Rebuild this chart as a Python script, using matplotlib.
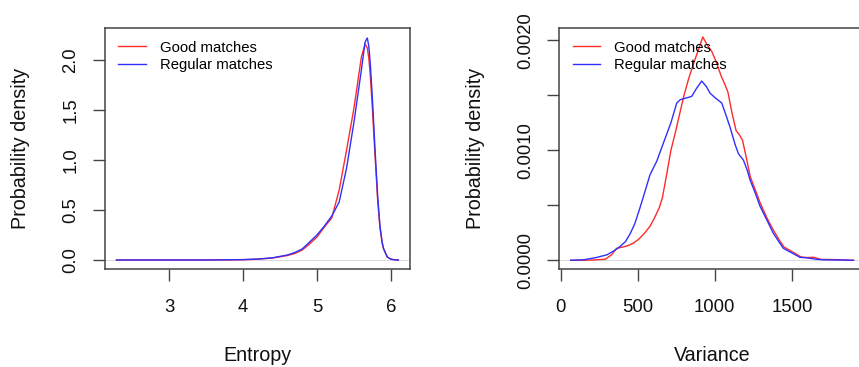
import matplotlib
matplotlib.use("Agg")
import matplotlib.pyplot as plt

plt.rcParams['font.family'] = ['Liberation Sans', 'DejaVu Sans']

# Entropy densities
ent_x = [2.29, 3.0, 3.5, 4.0, 4.2, 4.4, 4.6, 4.7, 4.8, 4.9, 5.0, 5.1, 5.2, 5.3,
         5.4, 5.5, 5.6, 5.65, 5.68, 5.7, 5.72, 5.75, 5.78, 5.8, 5.82, 5.85,
         5.88, 5.9, 5.95, 6.0, 6.05, 6.1]
ent_good = [0.0, 0.0, 0.0, 0.003, 0.008, 0.02, 0.045, 0.065, 0.10, 0.16, 0.23,
            0.33, 0.42, 0.70, 1.10, 1.52, 2.03, 2.16, 2.12, 2.02, 1.85, 1.50,
            1.10, 0.85, 0.60, 0.33, 0.17, 0.11, 0.03, 0.008, 0.002, 0.0]
ent_regular = [0.0, 0.0, 0.0, 0.004, 0.01, 0.022, 0.05, 0.075, 0.11, 0.18, 0.25,
               0.34, 0.44, 0.58, 0.92, 1.38, 1.90, 2.18, 2.22, 2.14, 1.97, 1.60,
               1.17, 0.90, 0.64, 0.35, 0.18, 0.115, 0.03, 0.008, 0.002, 0.0]

# Variance densities (units of 1e-4)
var_good_x = [65, 200, 290, 330, 363, 400, 430, 470, 505, 540, 580, 610, 640,
              660, 690, 715, 742, 770, 800, 830, 860, 895, 922, 950, 980, 1010,
              1040, 1065, 1085, 1110, 1138, 1160, 1180, 1205, 1230, 1260, 1295,
              1340, 1380, 1420, 1450, 1500, 1560, 1600, 1640, 1690, 1790, 1900]
var_good = [0.0, 0.02, 0.1, 0.5, 1.09, 1.2, 1.3, 1.55, 1.9, 2.4, 3.1, 3.9, 4.8,
            5.7, 8.0, 10.0, 11.5, 13.2, 15.0, 16.5, 17.8, 19.2, 20.3, 19.6,
            19.0, 18.0, 16.8, 16.0, 15.3, 13.5, 11.8, 11.4, 10.9, 9.3, 7.6,
            6.5, 5.2, 3.8, 2.75, 1.8, 1.2, 0.8, 0.3, 0.25, 0.28, 0.08, 0.06, 0.0]
var_reg_x = [65, 150, 230, 300, 350, 385, 420, 450, 480, 515, 550, 580, 623,
             678, 715, 753, 775, 800, 850, 880, 915, 945, 969, 1000, 1045, 1070,
             1099, 1130, 1153, 1186, 1210, 1229, 1260, 1294, 1340, 1380, 1420,
             1445, 1490, 1553, 1600, 1662, 1700, 1800, 1900]
var_regular = [0.0, 0.05, 0.25, 0.5, 0.9, 1.25, 1.7, 2.4, 3.3, 4.8, 6.4, 7.8,
               9.0, 11.1, 12.5, 14.3, 14.6, 14.7, 14.9, 15.6, 16.3, 15.8, 15.2,
               14.8, 14.3, 13.3, 12.1, 10.6, 9.7, 9.1, 8.2, 7.3, 6.2, 4.9, 3.6,
               2.45, 1.6, 1.09, 0.75, 0.27, 0.22, 0.09, 0.05, 0.03, 0.0]

RED = '#ff2a2a'
BLUE = '#2f2fff'
BOX = '#444444'

fig = plt.figure(figsize=(8.59, 3.67), dpi=100)
ax1 = fig.add_axes([0.1222, 0.267, 0.3551, 0.6567])
ax2 = fig.add_axes([0.6513, 0.267, 0.3545, 0.6567])


def style(ax):
    for s in ax.spines.values():
        s.set_color(BOX)
        s.set_linewidth(1.1)
    ax.tick_params(direction='out', length=8.5, width=1.0, color=BOX,
                   labelsize=13.3, labelcolor='#111111')
    ax.tick_params(axis='x', pad=13)
    ax.tick_params(axis='y', pad=10)
    plt.setp(ax.get_yticklabels(), rotation=90, va='center')
    ax.set_ylabel('Probability density', fontsize=14.2, color='#111111')
    ax.yaxis.set_label_coords(-0.245, 0.5)
    ax.xaxis.set_label_coords(0.5, -0.318)
    ax.legend(loc='upper left', bbox_to_anchor=(0.043, 0.948), frameon=False,
              borderaxespad=0, borderpad=0, fontsize=10.7, handlelength=1.85,
              handletextpad=0.95, labelspacing=0.22)


# left: entropy
ax1.axhline(0, color='#cccccc', lw=0.5, zorder=1)
ax1.plot(ent_x, ent_good, color=RED, lw=1.0, label='Good matches')
ax1.plot(ent_x, ent_regular, color=BLUE, lw=1.0, label='Regular matches')
ax1.set_xlim(2.135, 6.257)
ax1.set_ylim(-0.09, 2.32)
ax1.set_xticks([3, 4, 5, 6])
ax1.set_yticks([0, 0.5, 1.0, 1.5, 2.0])
ax1.set_yticklabels(['0.0', '0.5', '1.0', '1.5', '2.0'])
ax1.set_xlabel('Entropy', fontsize=14.2, color='#111111')
style(ax1)

# right: variance
var_good_d = [v * 1e-4 for v in var_good]
var_reg_d = [v * 1e-4 for v in var_regular]
ax2.axhline(0, color='#cccccc', lw=0.5, zorder=1)
ax2.plot(var_good_x, var_good_d, color=RED, lw=1.0, label='Good matches')
ax2.plot(var_reg_x, var_reg_d, color=BLUE, lw=1.0, label='Regular matches')
ax2.set_xlim(-8, 1968)
ax2.set_ylim(-0.0000791, 0.002112)
ax2.set_xticks([0, 500, 1000, 1500])
ax2.set_yticks([0, 0.0005, 0.001, 0.0015, 0.002])
ax2.set_yticklabels(['0.0000', '', '0.0010', '', '0.0020'])
ax2.set_xlabel('Variance', fontsize=14.2, color='#111111')
style(ax2)

fig.savefig('out.png', dpi=100)
